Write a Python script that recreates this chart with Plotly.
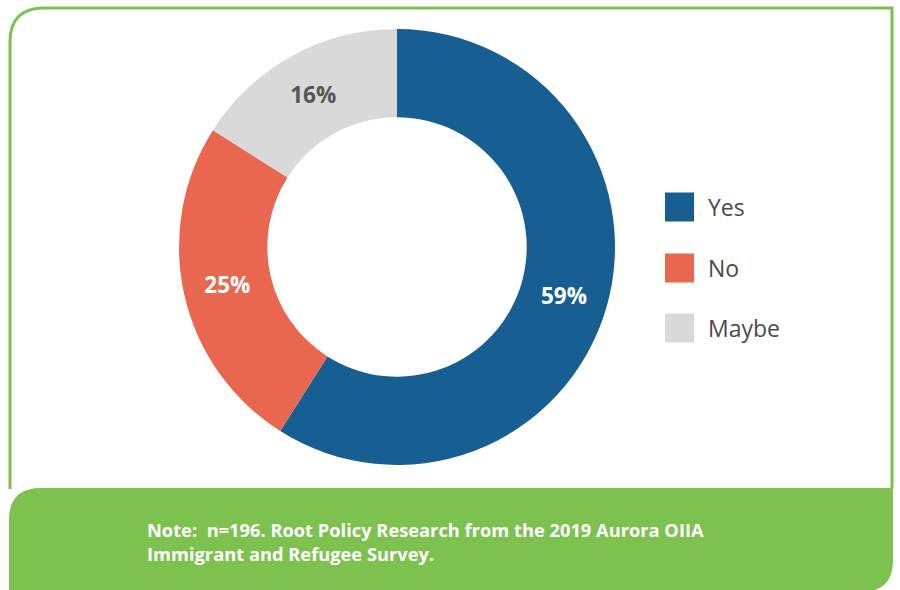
import plotly.graph_objects as go

# Survey responses
labels = ["Yes", "No", "Maybe"]
values = [59, 25, 16]
colors = ["#175F92", "#E9674F", "#D9D9D9"]
text_colors = ["#FFFFFF", "#FFFFFF", "#555555"]
note_lines = [
    "Note:  n=196. Root Policy Research from the 2019 Aurora OIIA",
    "Immigrant and Refugee Survey.",
]

W, H = 900, 590
GREEN = "#7DC24E"


def px(x):
    return x / W


def py(y):
    return 1 - y / H


fig = go.Figure()

fig.add_trace(go.Pie(
    labels=labels,
    values=values,
    sort=False,
    direction="clockwise",
    rotation=0,
    hole=0.595,
    marker=dict(colors=colors, line=dict(width=0)),
    texttemplate="%{value}%",
    textposition="inside",
    insidetextorientation="horizontal",
    textfont=dict(family="Open Sans", size=22.5, color=text_colors, weight="bold"),
    domain=dict(x=[px(179), px(615)], y=[py(465), py(29)]),
    showlegend=False,
    hoverinfo="label+percent",
))

shapes = []

# Outer frame: rounded top-left corner, square top-right
r = 34
frame = (
    f"M {px(10)},{py(489)} L {px(10)},{py(8 + r)} "
    f"Q {px(10)},{py(8)} {px(10 + r)},{py(8)} "
    f"L {px(892)},{py(8)} L {px(892)},{py(489)}"
)
shapes.append(dict(type="path", xref="paper", yref="paper", path=frame,
                   line=dict(color=GREEN, width=3), layer="below"))

# Footer band: rounded top-left and bottom-right corners
rf = 32
footer = (
    f"M {px(9)},{py(488 + rf)} Q {px(9)},{py(488)} {px(9 + rf)},{py(488)} "
    f"L {px(893)},{py(488)} L {px(893)},{py(592 - rf)} "
    f"Q {px(893)},{py(592)} {px(893 - rf)},{py(592)} "
    f"L {px(9)},{py(592)} Z"
)
shapes.append(dict(type="path", xref="paper", yref="paper", path=footer,
                   fillcolor=GREEN, line=dict(width=0), layer="below"))

annotations = []

# Legend: colored squares with labels
legend_y = [207, 268, 328]
for lab, col, yc in zip(labels, colors, legend_y):
    shapes.append(dict(type="rect", xref="paper", yref="paper",
                       x0=px(665), x1=px(694), y0=py(yc + 14.5), y1=py(yc - 14.5),
                       fillcolor=col, line=dict(width=0)))
    annotations.append(dict(xref="paper", yref="paper", x=px(706), y=py(yc),
                            xanchor="left", yanchor="middle", showarrow=False,
                            text=lab,
                            font=dict(family="Open Sans", size=23, color="#4A4A4A")))

# Footer note
for line, yc in zip(note_lines, [529, 553]):
    annotations.append(dict(xref="paper", yref="paper", x=px(145), y=py(yc),
                            xanchor="left", yanchor="middle", showarrow=False,
                            text=line,
                            font=dict(family="Open Sans", size=18.3, color="#FFFFFF",
                                      weight="bold")))

fig.update_layout(
    width=W, height=H,
    margin=dict(l=0, r=0, t=0, b=0),
    paper_bgcolor="#FFFFFF",
    plot_bgcolor="#FFFFFF",
    shapes=shapes,
    annotations=annotations,
)

fig.write_html("out.html")
